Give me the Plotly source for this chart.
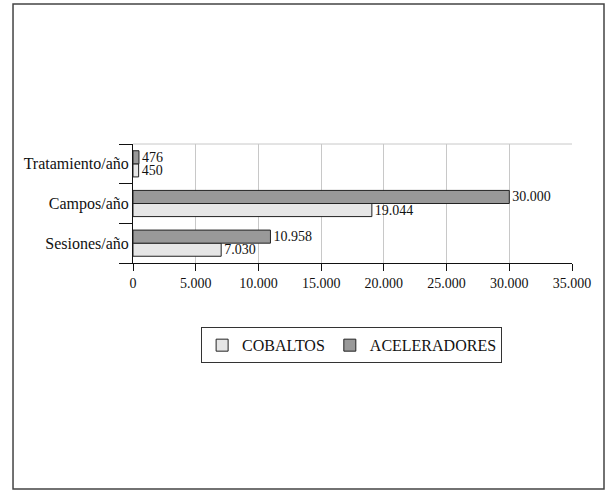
import plotly.graph_objects as go

# Annual workload indicators, cobalt units vs linear accelerators
categories = ["Sesiones/año", "Campos/año", "Tratamiento/año"]
cobaltos = [7030, 19044, 450]
aceleradores = [10958, 30000, 476]
x_ticks = [0, 5000, 10000, 15000, 20000, 25000, 30000, 35000]

serif = "Liberation Serif"

fig = go.Figure()
fig.add_trace(go.Bar(
    name="COBALTOS", y=categories, x=cobaltos, orientation="h",
    marker=dict(color="#e6e6e6", line=dict(color="#222222", width=1)),
    texttemplate="%{x:,d}", textposition="outside", constraintext="none",
    textfont=dict(family=serif, size=14, color="#111111"), cliponaxis=False,
))
fig.add_trace(go.Bar(
    name="ACELERADORES", y=categories, x=aceleradores, orientation="h",
    marker=dict(color="#999999", line=dict(color="#222222", width=1)),
    texttemplate="%{x:,d}", textposition="outside", constraintext="none",
    textfont=dict(family=serif, size=14, color="#111111"), cliponaxis=False,
))

fig.update_layout(
    width=607, height=491,
    margin=dict(l=133, r=35, t=144, b=228),
    paper_bgcolor="white", plot_bgcolor="white",
    barmode="group", bargap=0.34, bargroupgap=0,
    separators=",.",
    font=dict(family=serif, size=16, color="#111111"),
    showlegend=True,
    legend=dict(
        orientation="h", x=0.498, xanchor="center", y=-0.54, yanchor="top",
        bordercolor="#333333", borderwidth=1, bgcolor="white",
        font=dict(family=serif, size=16, color="#111111"),
        traceorder="normal", itemwidth=30,
    ),
    xaxis=dict(
        range=[0, 35000], tickvals=x_ticks, tickformat=",d",
        showgrid=True, gridcolor="#c8c8c8", gridwidth=1,
        showline=True, linecolor="#111111", linewidth=1,
        ticks="outside", ticklen=7, tickcolor="#111111",
        tickfont=dict(family=serif, size=14, color="#111111"),
        zeroline=False, automargin=False,
    ),
    yaxis=dict(
        showline=True, linecolor="#111111", linewidth=1,
        ticks="outside", ticklen=13, tickcolor="#111111",
        tickson="boundaries", showgrid=False,
        tickfont=dict(family=serif, size=16, color="#111111"),
        automargin=False,
    ),
    shapes=[
        # light top edge of the plotting area
        dict(type="line", xref="paper", yref="paper", x0=0, x1=1, y0=1, y1=1,
             line=dict(color="#c8c8c8", width=1)),
        # outer frame around the whole figure
        dict(type="rect", xref="paper", yref="paper",
             x0=-0.2733, x1=1.0729, y0=-1.899, y1=2.176,
             line=dict(color="#444444", width=1.5)),
    ],
)

fig.write_html("out.html")
